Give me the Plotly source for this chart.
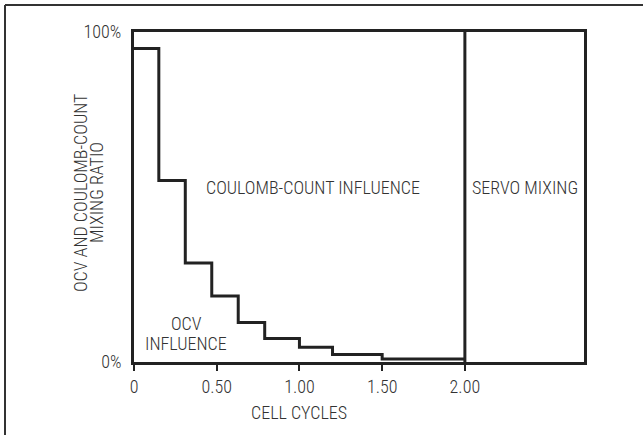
import plotly.graph_objects as go

# Data
step_x = [0, 0.15, 0.31, 0.47, 0.63, 0.79, 1.0, 1.2, 1.5, 2.0]
ocv_ratio = [0.95, 0.55, 0.30, 0.20, 0.12, 0.071, 0.045, 0.023, 0.009, 0.009]
servo_x = [2.0, 2.0]
servo_y = [0.0, 1.0]
x_tick_vals = [0, 0.5, 1.0, 1.5, 2.0]
x_tick_text = ["0", "0.50", "1.00", "1.50", "2.00"]
y_tick_vals = [0, 1]
y_tick_text = ["0%", "100%"]

FONT = "Roboto Condensed Light, Roboto Condensed, Archivo Narrow, sans-serif"
INK = "#222222"
TXT = "#333333"
FS = 18

W, H = 643, 435
L, R, T, B = 134, 59, 32, 73
PW = W - L - R
PH = H - T - B


def px_x(p):
    return (p - L) / PW


def px_y(p):
    return (H - B - p) / PH


fig = go.Figure()
fig.add_trace(go.Scatter(x=step_x, y=ocv_ratio, mode="lines", line_shape="hv",
                         line=dict(color=INK, width=3), hoverinfo="skip", showlegend=False))
fig.add_trace(go.Scatter(x=servo_x, y=servo_y, mode="lines",
                         line=dict(color=INK, width=3), hoverinfo="skip", showlegend=False))

annots = [
    dict(text="COULOMB-COUNT INFLUENCE", x=px_x(313), y=px_y(187)),
    dict(text="SERVO MIXING", x=px_x(525), y=px_y(187)),
    dict(text="OCV", x=px_x(186), y=px_y(323)),
    dict(text="INFLUENCE", x=px_x(186), y=px_y(343)),
    dict(text="CELL CYCLES", x=px_x(299), y=px_y(412)),
    dict(text="OCV AND COULOMB-COUNT", x=px_x(80), y=px_y(193), textangle=-90),
    dict(text="MIXING RATIO", x=px_x(96), y=px_y(193), textangle=-90),
]
for a in annots:
    fig.add_annotation(xref="paper", yref="paper", showarrow=False,
                       xanchor="center", yanchor="middle",
                       font=dict(family=FONT, size=FS, color=TXT), **a)

# outer frame (top and left edges)
fig.add_shape(type="line", xref="paper", yref="paper",
              x0=px_x(5), x1=px_x(W + 5), y0=px_y(5), y1=px_y(5),
              line=dict(color="#333333", width=2))
fig.add_shape(type="line", xref="paper", yref="paper",
              x0=px_x(5), x1=px_x(5), y0=px_y(5), y1=px_y(H + 5),
              line=dict(color="#333333", width=2))

fig.update_layout(
    width=W, height=H,
    margin=dict(l=L, r=R, t=T, b=B),
    paper_bgcolor="white", plot_bgcolor="white",
    font=dict(family=FONT, size=FS, color=TXT),
    showlegend=False,
)
fig.update_xaxes(range=[0, 2.72], tickvals=x_tick_vals, ticktext=x_tick_text,
                 ticks="outside", ticklen=6, tickwidth=1.5, tickcolor=INK,
                 showline=True, linewidth=3, linecolor=INK, mirror=True,
                 showgrid=False, zeroline=False, fixedrange=True)
fig.update_yaxes(range=[0, 1], tickvals=y_tick_vals, ticktext=y_tick_text,
                 ticks="", ticklabelstandoff=6,
                 showline=True, linewidth=3, linecolor=INK, mirror=True,
                 showgrid=False, zeroline=False, fixedrange=True)

fig.write_html("out.html", config={"displayModeBar": False},
               post_script="document.body.style.margin='0';document.body.style.padding='0';")
